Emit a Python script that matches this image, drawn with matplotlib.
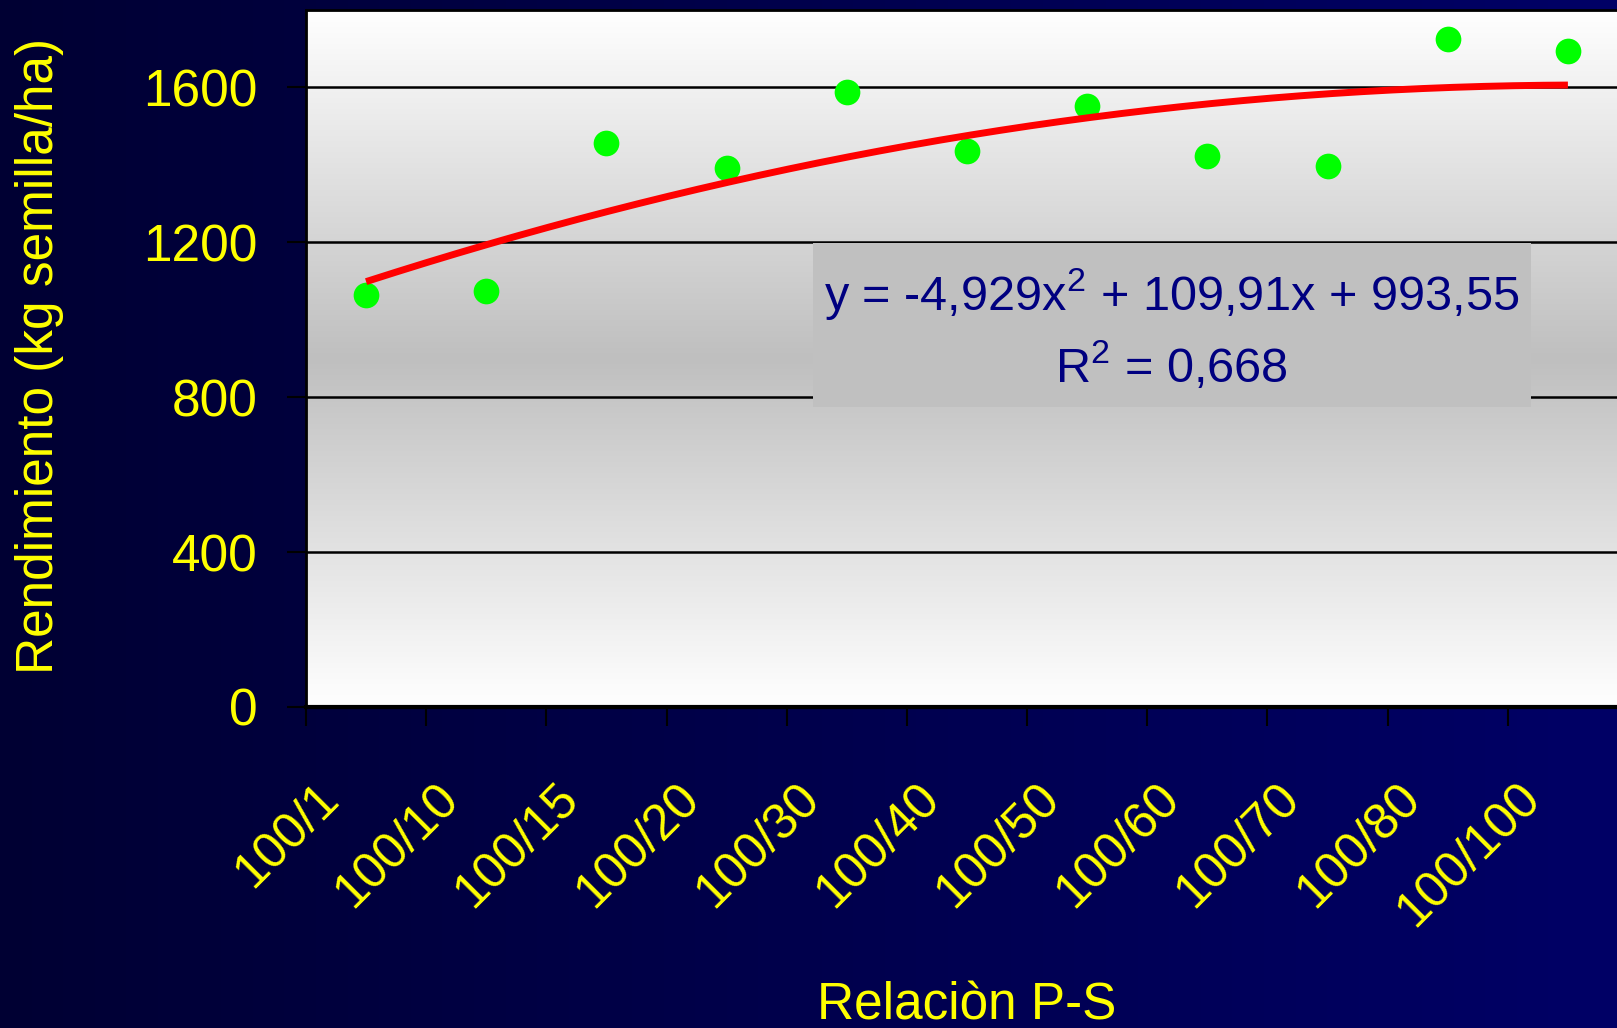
import numpy as np
import matplotlib
matplotlib.use("Agg")
import matplotlib.pyplot as plt
from matplotlib.colors import LinearSegmentedColormap
from matplotlib.patches import Rectangle
import matplotlib.transforms as mtransforms

plt.rcParams["font.family"] = ["Liberation Sans", "DejaVu Sans"]
plt.rcParams["mathtext.fontset"] = "custom"
plt.rcParams["mathtext.rm"] = "Liberation Sans"

# data
categories = ["100/1", "100/10", "100/15", "100/20", "100/30", "100/40",
              "100/50", "100/60", "100/70", "100/80", "100/100"]
rendimiento = [1063, 1075, 1456, 1393, 1587, 1436, 1551, 1423, 1398, 1726, 1693]
trend_coef = [-4.929, 109.91, 993.55]   # y = a x^2 + b x + c (x = 1..11)
r2 = 0.668
yticks = [0, 400, 800, 1200, 1600]

W, H = 1617, 1028
fig = plt.figure(figsize=(W / 100, H / 100), dpi=100)

# navy background, darker on the left
bg = fig.add_axes([0, 0, 1, 1], zorder=-10)
bg_cmap = LinearSegmentedColormap.from_list("bg", ["#000033", "#000066"])
bg.imshow(np.linspace(0, 1, 256)[None, :], cmap=bg_cmap, aspect="auto",
          extent=(0, 1, 0, 1))
bg.set_axis_off()

ax = fig.add_axes([306 / W, 321 / H, 1322 / W, 697 / H])
ax.patch.set_visible(False)
n = len(categories)
ymax = 1800

# plot area: white at top and bottom, grey in the middle
pa_cmap = LinearSegmentedColormap.from_list("pa", ["#ffffff", "#bfbfbf", "#ffffff"])
ax.imshow(np.linspace(0, 1, 256)[:, None], cmap=pa_cmap, aspect="auto",
          extent=(0, n, 0, ymax), zorder=0)

for v in yticks[1:]:
    ax.axhline(v, color="black", lw=1.8, zorder=1)

# equation box
ax.add_patch(Rectangle((0.3835, 0.4304), 0.5431, 0.2353, transform=ax.transAxes,
                       facecolor="#c0c0c0", edgecolor="none", zorder=2))
ax.text(0.655, 0.591, r"y = -4,929x$^\mathregular{2}$ + 109,91x + 993,55",
        transform=ax.transAxes, ha="center", va="center", fontsize=35,
        color="#000080", zorder=3)
ax.text(0.655, 0.488, r"R$^\mathregular{2}$ = " + f"{r2:.3f}".replace(".", ","),
        transform=ax.transAxes, ha="center", va="center", fontsize=35,
        color="#000080", zorder=3)

xc = np.arange(n) + 0.5
ax.plot(xc, rendimiento, "o", color="#00ff00", ms=18.5, mec="none", zorder=4)

xt = np.linspace(1, n, 200)
ax.plot(xt - 0.5, np.polyval(trend_coef, xt), color="#ff0000", lw=5,
        solid_capstyle="butt", zorder=5)

ax.set_xlim(0, n)
ax.set_ylim(0, ymax)
ax.set_xticks(np.arange(n + 1))
ax.set_xticklabels([])
ax.set_yticks(yticks)
ax.set_yticklabels([str(v) for v in yticks])
ax.tick_params(axis="both", direction="out", length=13.7, width=1.5, color="black")
ax.tick_params(axis="y", labelsize=37, labelcolor="#ffff00", pad=21)

for s in ["left", "top"]:
    ax.spines[s].set_color("black")
    ax.spines[s].set_linewidth(2)
ax.spines["bottom"].set_color("black")
ax.spines["bottom"].set_linewidth(3)
ax.spines["right"].set_visible(False)

# rotated category labels
off = mtransforms.ScaledTranslation(-51 / 100, -68 / 100, fig.dpi_scale_trans)
trans = ax.get_xaxis_transform() + off
for x, lab in zip(xc, categories):
    ax.text(x, 0, lab, transform=trans, rotation=45, rotation_mode="anchor",
            ha="right", va="top", fontsize=36, color="#ffff00", clip_on=False)

fig.text(40 / W, 1 - 356 / H, "Rendimiento (kg semilla/ha)", rotation=90,
         ha="center", va="center", fontsize=37, color="#ffff00")
fig.text(967 / W, 9 / H, "Relaciòn P-S", ha="center", va="baseline",
         fontsize=37, color="#ffff00")

fig.savefig("out.png", dpi=100, facecolor="#000033")
